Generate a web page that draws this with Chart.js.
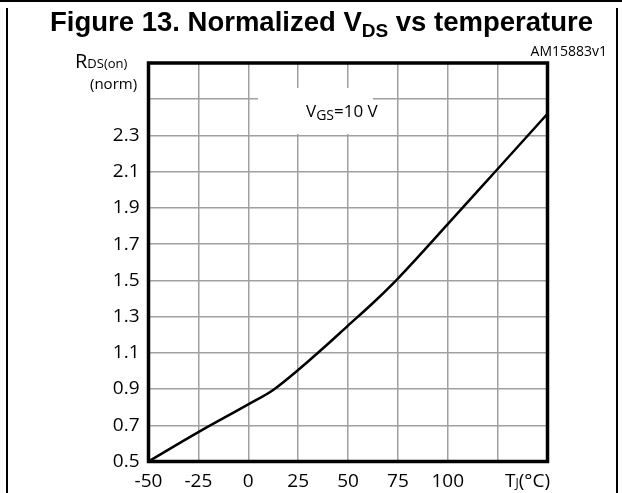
<!DOCTYPE html>
<html>
<head>
<meta charset="utf-8">
<script src="https://cdn.jsdelivr.net/npm/chart.js@4.4.1/dist/chart.umd.min.js"></script>
<style>
  body { margin: 0; background: #fff; }
  #wrap { position: relative; width: 622px; height: 493px; overflow: hidden; font-family: 'Open Sans', sans-serif; color: #000; }
  #c { position: absolute; left: 0; top: 0; }
  .rule { position: absolute; background: #000; }
  .txt { position: absolute; white-space: nowrap; line-height: 1; }
  #title { left: 50px; top: 6px; font: bold 27.5px 'Liberation Sans', Arial, sans-serif; }
  #title .sub { font-size: 19px; position: relative; top: 6px; }
  #code { right: 15px; top: 44px; font-size: 14px; }
  #ylab1 { left: 75px; top: 51px; font-size: 20px; }
  #ylab1 .sm { font-size: 13px; }
  #ylab2 { left: 90px; top: 76px; font-size: 15px; }
  #vgsbox { position: absolute; left: 258px; top: 88px; width: 115px; height: 46px; background: #fff; }
  #vgs { left: 306px; top: 102px; font-size: 17px; }
  #vgs .sub { font-size: 14px; position: relative; top: 3px; }
  #tj { left: 505px; top: 471px; font-size: 19px; }
  #tj .sm { font-size: 12px; }
</style>
</head>
<body>
<div id="wrap">
  <canvas id="c" width="622" height="493"></canvas>
  <div class="rule" style="left:0;top:0;width:622px;height:2px"></div>
  <div class="rule" style="left:6px;top:8px;width:2px;height:485px"></div>
  <div class="rule" style="left:616px;top:8px;width:2px;height:485px"></div>
  <div class="txt" id="title">Figure 13. Normalized V<span class="sub">DS</span> vs temperature</div>
  <div class="txt" id="code">AM15883v1</div>
  <div class="txt" id="ylab1">R<span class="sm">DS(on)</span></div>
  <div class="txt" id="ylab2">(norm)</div>
  <div id="vgsbox"></div>
  <div class="txt" id="vgs">V<span class="sub">GS</span>=10 V</div>
  <div class="txt" id="tj">T<span class="sm">J</span>(°C)</div>
</div>
<script>
// curve
const tempC   = [-50, -25, 0, 12.5, 25, 37.5, 50, 62.5, 75, 100, 125, 150];
const rdsNorm = [0.50, 0.662, 0.815, 0.895, 1.005, 1.125, 1.25, 1.375, 1.51, 1.81, 2.115, 2.42];

// tick labels (125 / 150 and 2.5 / 2.7 are left blank in the original)
const xTickLabels = ['-50', '-25', '0', '25', '50', '75', '100'];
const yTickLabels = ['0.5', '0.7', '0.9', '1.1', '1.3', '1.5', '1.7', '1.9', '2.1', '2.3'];

const points = tempC.map((t, i) => ({ x: t, y: rdsNorm[i] }));

// thick black box round the plot area
const framePlugin = {
  id: 'frame',
  afterDatasetsDraw(chart) {
    const { ctx, chartArea: a } = chart;
    ctx.save();
    ctx.strokeStyle = '#000';
    ctx.lineWidth = 3.5;
    ctx.strokeRect(a.left, a.top, a.right - a.left, a.bottom - a.top);
    ctx.restore();
  }
};

const tickFont = { family: "'Open Sans', sans-serif", size: 19 };
const gridStyle = { color: '#a0a0a0', lineWidth: 1.5, drawTicks: false };

new Chart(document.getElementById('c'), {
  type: 'line',
  data: {
    datasets: [{
      data: points,
      borderColor: '#000',
      borderWidth: 2.5,
      pointRadius: 0,
      fill: false,
      cubicInterpolationMode: 'monotone'
    }]
  },
  options: {
    responsive: false,
    animation: false,
    devicePixelRatio: 1,
    layout: { padding: { left: 0, top: 63, right: 74.5, bottom: 0 } },
    plugins: { legend: { display: false }, tooltip: { enabled: false }, title: { display: false } },
    scales: {
      x: {
        type: 'linear', min: -50, max: 150,
        grid: gridStyle,
        border: { display: false },
        ticks: {
          stepSize: 25, autoSkip: false, maxRotation: 0, padding: 9,
          color: '#000', font: tickFont,
          callback: (v, i) => xTickLabels[i] || ''
        },
        afterFit: s => { s.height = 31.5; }
      },
      y: {
        type: 'linear', min: 0.5, max: 2.7,
        grid: gridStyle,
        border: { display: false },
        ticks: {
          stepSize: 0.2, autoSkip: false, padding: 9,
          color: '#000', font: tickFont,
          callback: (v, i) => yTickLabels[i] || ''
        },
        afterFit: s => { s.width = 148.5; }
      }
    }
  },
  plugins: [framePlugin]
});
</script>
</body>
</html>
